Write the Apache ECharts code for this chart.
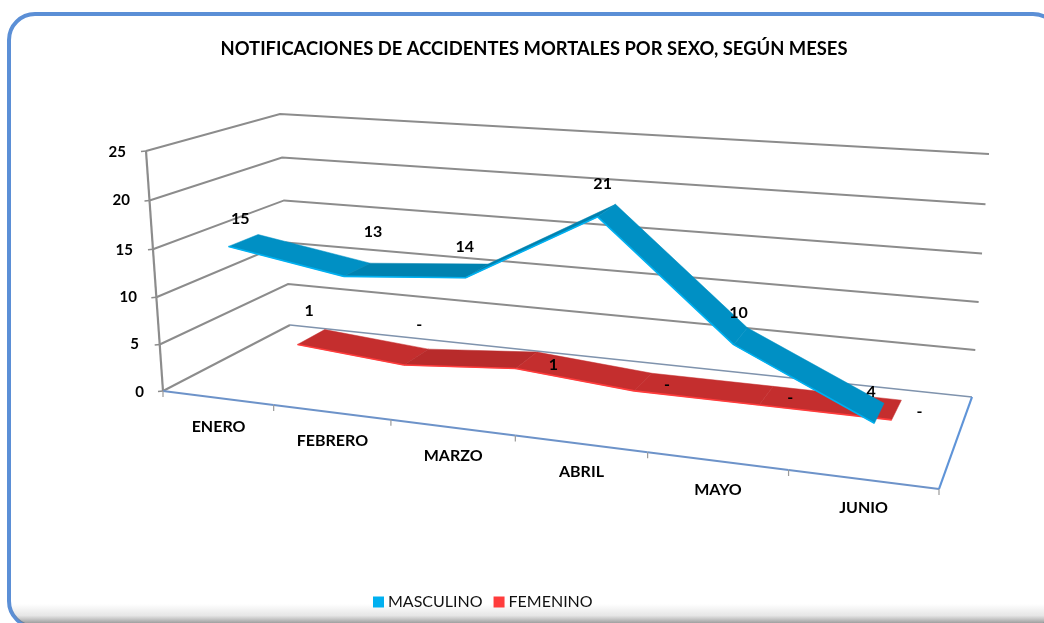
<!DOCTYPE html>
<html>
<head>
<meta charset="utf-8">
<style>html,body{margin:0;padding:0;background:#fff}#c{width:1044px;height:623px}</style>
<script src="https://cdn.jsdelivr.net/npm/echarts@6/dist/echarts.min.js"></script>
</head>
<body>
<div id="c"></div>
<script>
var months = ['ENERO','FEBRERO','MARZO','ABRIL','MAYO','JUNIO'];
var masculino = [15,13,14,21,10,4];
var femenino = [1,0,1,0,0,0];
var yTicks = [0,5,10,15,20,25];

// layout of the perspective box (screen corners)
var FONT = 'Lato, "Open Sans", sans-serif';
var floorQuad = [[163,391],[939,489],[972,397],[290,325]];
var topQuad   = [[146,151],[984,210],[989,154],[280,114]];
var GRID = {left:146, top:151, width:793, height:240};
var DEPTH_K = 0.04;
var blueDepth = [0.14,0.36], redDepth = [0.63,0.87];
var blueNudge = [[-3,-22],[16,-38],[-12,-24],[-4,-27],[-2,-23],[-8,-21]];
var redNudge  = [[-2,-26],[3,-32],[27,5],[24,3],[24,2],[23,2]];
var tickPad = {0:0,5:5,10:7,15:11,20:14,25:18};
var tickDrop = {0:1,5:1,10:2,15:3,20:1,25:1};

function homography(q){
  var x0=q[0][0],y0=q[0][1],x1=q[1][0],y1=q[1][1],x2=q[2][0],y2=q[2][1],x3=q[3][0],y3=q[3][1];
  var sx=x0-x1+x2-x3, sy=y0-y1+y2-y3, dx1=x1-x2, dx2=x3-x2, dy1=y1-y2, dy2=y3-y2;
  var den=dx1*dy2-dx2*dy1;
  var g=(sx*dy2-dx2*sy)/den, h=(dx1*sy-sx*dy1)/den;
  var a=x1-x0+g*x1, b=x3-x0+h*x3, d=y1-y0+g*y1, e=y3-y0+h*y3;
  return function(u,t){
    var w=g*u+h*t+1;
    return [(a*u+b*t+x0)/w,(d*u+e*t+y0)/w];
  };
}
var floorH = homography(floorQuad), topH = homography(topQuad);
function project(u,t,v){
  var f=floorH(u,t), c=topH(u,t);
  var s=v/(1+DEPTH_K*(1-v));
  return [f[0]+(c[0]-f[0])*s, f[1]+(c[1]-f[1])*s];
}
// library coordinate -> position in the box
function toBox(api,i,val,t){
  var p=api.coord([i,val]);
  var u=(p[0]-GRID.left)/GRID.width, v=(GRID.top+GRID.height-p[1])/GRID.height;
  return project(u,t,v);
}
function line(pts,color,w){
  return {type:'polyline',silent:true,shape:{points:pts},style:{stroke:color,lineWidth:w,fill:null}};
}
function label(txt,x,y,z2){
  return {type:'text',silent:true,z2:z2||20,style:{text:String(txt),x:x,y:y,align:'center',verticalAlign:'middle',
    fill:'#000',font:'700 16px '+FONT}};
}
function ribbonSeries(name,values,depth,light,fill,dark,nudge,z){
  return {
    type:'custom',name:name,coordinateSystem:'cartesian2d',z:z,silent:true,
    itemStyle:{color:light},
    data:values.map(function(v,i){return [i,v];}),
    renderItem:function(params,api){
      var i=api.value(0), v=api.value(1), kids=[];
      var front=toBox(api,i,v,depth[0]), back=toBox(api,i,v,depth[1]);
      if(i<values.length-1){
        var nv=values[i+1];
        var f2=toBox(api,i+1,nv,depth[0]), b2=toBox(api,i+1,nv,depth[1]);
        kids.push({type:'polygon',silent:true,shape:{points:[front,back,b2,f2]},style:{fill:nv>v?dark:fill,stroke:nv>v?dark:fill,lineWidth:0.5}});
        kids.push(line([front,f2],light,1.6));
      }
      var m=[(front[0]+back[0])/2+nudge[i][0],(front[1]+back[1])/2+nudge[i][1]];
      kids.push(label(v===0?'-':v,m[0],m[1]));
      return {type:'group',children:kids};
    }
  };
}

var option = {
  animation:false,
  backgroundColor:'#fff',
  title:{text:'NOTIFICACIONES DE ACCIDENTES MORTALES POR SEXO, SEGÚN MESES',left:534,top:34,textAlign:'center',
    textStyle:{fontFamily:FONT,fontWeight:700,fontSize:18.4,color:'#000',lineHeight:20}},
  legend:{data:['MASCULINO','FEMENINO'],left:368,top:589,icon:'rect',itemWidth:11,itemHeight:11,itemGap:11,
    selectedMode:false,textStyle:{fontFamily:FONT,fontSize:16,color:'#111',padding:[0,0,0,-1]}},
  grid:{left:GRID.left,top:GRID.top,width:GRID.width,height:GRID.height,containLabel:false},
  xAxis:{type:'category',data:months,show:false},
  yAxis:{type:'value',min:0,max:25,interval:5,
    axisLine:{show:false},axisTick:{show:false},splitLine:{show:false},
    axisLabel:{margin:0,fontFamily:FONT,fontWeight:700,fontSize:15,color:'#000',
      formatter:function(v){return '{t'+v+'|'+v+'}';},
      rich:yTicks.reduce(function(o,t){
        o['t'+t]={fontFamily:FONT,fontWeight:700,fontSize:15,color:'#000',padding:[tickDrop[t]*2,tickPad[t]+2,0,0]};
        return o;},{})}},
  graphic:[
    {type:'rect',z:-3,silent:true,shape:{x:9,y:14,width:1050,height:613,r:26},style:{fill:'#fff',stroke:'#5b8fd6',lineWidth:4}},
    {type:'rect',z:-2,silent:true,shape:{x:11,y:604,width:1046,height:21,r:[0,0,24,24]},
      style:{fill:{type:'linear',x:0,y:0,x2:0,y2:1,colorStops:[
        {offset:0,color:'rgba(130,130,130,0)'},{offset:.55,color:'rgba(130,130,130,.2)'},{offset:.9,color:'rgba(120,120,120,.7)'},{offset:1,color:'rgba(120,120,120,.8)'}]}}}
  ],
  series:[
    {type:'custom',name:'walls',coordinateSystem:'cartesian2d',z:1,silent:true,
     data:yTicks.map(function(t){return [0,t];}),
     renderItem:function(params,api){
       var val=api.value(1), cs=params.coordSys;
       var y=api.coord([0,val])[1], v=(cs.y+cs.height-y)/cs.height;
       var a=project(0,0,v), b=project(0,1,v), c=project(1,1,v), kids=[];
       if(val>0){ kids.push(line([a,b,c],'#8c8c8c',2)); }
       else { kids.push(line([a,b],'#8c8c8c',2)); kids.push(line([b,c],'#7f93ad',1.6)); }
       kids.push(line([[a[0]-5,a[1]+0.5],a],'#8c8c8c',1.6));
       if(val<25){ kids.push(line([a,project(0,0,v+5/25)],'#8c8c8c',2.2)); }
       return {type:'group',children:kids};
     }},
    {type:'custom',name:'floor',coordinateSystem:'cartesian2d',z:2,silent:true,
     data:months.map(function(m,i){return [i,0];}),
     renderItem:function(params,api){
       var i=api.value(0), n=months.length, kids=[];
       var p=project(i/n,0,0), q=project((i+1)/n,0,0);
       kids.push(line([p,q],'#6d93c9',2));
       kids.push(line([[p[0],p[1]],[p[0],p[1]+6]],'#9a9a9a',1.2));
       if(i===n-1){
         kids.push(line([[q[0],q[1]],[q[0],q[1]+6]],'#9a9a9a',1.2));
         kids.push(line([q,project(1,1,0)],'#5f94d8',2.2));
       }
       var mid=project((i+.5)/n,0,0);
       kids.push(label(months[i],mid[0]+1,mid[1]+28.5));
       return {type:'group',children:kids};
     }},
    ribbonSeries('FEMENINO',femenino,redDepth,'#ff3c3c','#c42e2e','#b82b2b',redNudge,3),
    ribbonSeries('MASCULINO',masculino,blueDepth,'#00b0f0','#0090c4','#0082b0',blueNudge,4)
  ]
};
option.title.left = 529;
var chart = echarts.init(document.getElementById('c'),null,{renderer:'canvas'});
chart.setOption(option);
</script>
</body>
</html>
